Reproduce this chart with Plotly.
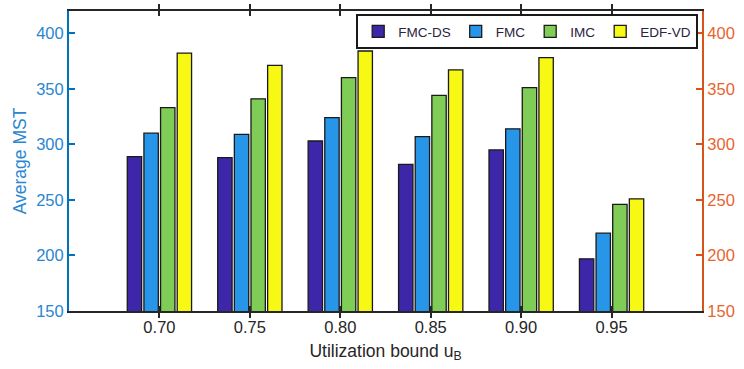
import plotly.graph_objects as go

categories = ["0.70", "0.75", "0.80", "0.85", "0.90", "0.95"]
fmc_ds = [289, 288, 303, 282, 295, 197]
fmc = [310, 309, 324, 307, 314, 220]
imc = [333, 341, 360, 344, 351, 246]
edf_vd = [382, 371, 384, 367, 378, 251]
series_names = ["FMC-DS", "FMC", "IMC", "EDF-VD"]
series_colors = ["#3E26A8", "#2796E9", "#7FCC57", "#F7F814"]
y_ticks = [150, 200, 250, 300, 350, 400]

FONT = "Liberation Sans, Arial, sans-serif"
fig = go.Figure()
for name, vals, col in zip(series_names, [fmc_ds, fmc, imc, edf_vd], series_colors):
    fig.add_trace(go.Bar(x=categories, y=vals, name=name,
                         marker=dict(color=col, line=dict(color="#1a1a1a", width=1.3))))

# invisible helper trace so the right-hand axis is drawn
fig.add_trace(go.Scatter(x=categories, y=edf_vd, yaxis="y2", mode="markers",
                         marker=dict(opacity=0), showlegend=False, hoverinfo="skip"))

fig.update_layout(
    width=744, height=369,
    margin=dict(l=69, r=39, t=9, b=58),
    paper_bgcolor="white", plot_bgcolor="white",
    font=dict(family=FONT, size=16, color="#262626"),
    barmode="group", bargap=0.264, bargroupgap=0.136,
    showlegend=True,
    legend=dict(orientation="h", x=0.994, y=0.99, xanchor="right", yanchor="top",
                bgcolor="white", bordercolor="#1a1a1a", borderwidth=2,
                font=dict(family=FONT, size=13.5, color="#2a2440"),
                itemwidth=30, tracegroupgap=0),
    xaxis=dict(type="category", range=[-1, 6], showline=True, linecolor="#262626", linewidth=1.5,
               mirror="allticks", ticks="inside", ticklen=5, tickcolor="#262626", tickwidth=1.5,
               showgrid=False, zeroline=False,
               tickfont=dict(size=16.5, color="#262626"),
               title=dict(text="Utilization bound u<sub>B</sub>", font=dict(size=17.5, color="#262626"),
                          standoff=10)),
    yaxis=dict(range=[150, 420], tickvals=y_ticks, showline=True, linecolor="#0072BD", linewidth=2,
               ticks="inside", ticklen=6, tickcolor="#0072BD", tickwidth=2,
               showgrid=False, zeroline=False,
               tickfont=dict(size=16.5, color="#2a86d1"),
               title=dict(text="Average MST", font=dict(size=17.5, color="#2a86d1"), standoff=5)),
    yaxis2=dict(range=[150, 420], tickvals=y_ticks, overlaying="y", side="right", anchor="x",
                showline=True, linecolor="#D95319", linewidth=2,
                ticks="inside", ticklen=6, tickcolor="#D95319", tickwidth=2,
                showgrid=False, zeroline=False,
                tickfont=dict(size=16.5, color="#e8642e")),
)
fig.write_html("out.html", config={"displayModeBar": False},
               post_script="document.body.style.margin='0px';document.body.style.overflow='hidden';")
